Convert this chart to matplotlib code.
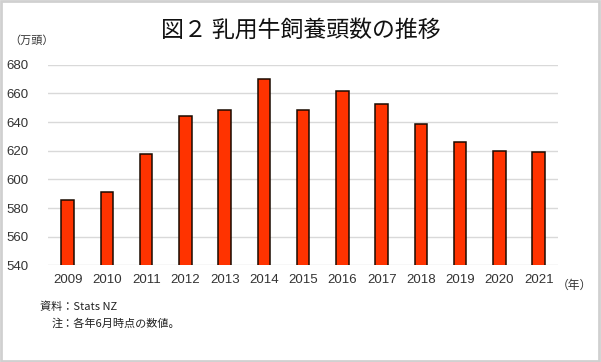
import matplotlib.pyplot as plt
from matplotlib.patches import Rectangle

plt.rcParams['font.family'] = ['Noto Sans CJK JP', 'DejaVu Sans']

# 乳用牛飼養頭数（万頭）
years = ['2009', '2010', '2011', '2012', '2013', '2014', '2015',
         '2016', '2017', '2018', '2019', '2020', '2021']
heads = [585.7, 591.3, 617.5, 644.3, 648.2, 670.0, 648.7,
         661.6, 652.7, 638.8, 626.0, 619.9, 618.8]

fig = plt.figure(figsize=(6.01, 3.62), dpi=100)
ax = fig.add_axes([0.080, 0.267, 0.849, 0.554])

x = range(len(years))
ax.bar(x, heads, width=0.32, color='#ff3300', edgecolor='#1a0a00',
       linewidth=1.1, zorder=3)

ax.set_ylim(540, 680)
ax.set_xlim(-0.5, len(years) - 0.5)
ax.set_yticks(range(540, 681, 20))
ax.set_xticks(list(x))
ax.set_xticklabels(years)
ax.grid(axis='y', color='#d9d9d9', linewidth=1, zorder=0)
for s in ax.spines.values():
    s.set_visible(False)
ax.tick_params(length=0, labelsize=9.5, labelcolor='#333333', pad=6)
ax.tick_params(axis='y', pad=14)
for lab in ax.get_xticklabels() + ax.get_yticklabels():
    lab.set_family(['Liberation Sans', 'DejaVu Sans'])

# texts
fig.text(0.50, 0.918, '図２ 乳用牛飼養頭数の推移', ha='center', va='center',
         fontsize=16.5, color='#111111')
fig.text(0.015, 0.887, '（万頭）', ha='left', va='center', fontsize=8,
         color='#333333')
fig.text(0.927, 0.213, '（年）', ha='left', va='center', fontsize=8.5,
         color='#333333')
fig.text(0.066, 0.152, '資料：Stats NZ', ha='left', va='center', fontsize=8,
         color='#222222')
fig.text(0.086, 0.107, '注：各年6月時点の数値。', ha='left', va='center',
         fontsize=8, color='#222222')

# outer border
fig.patches.append(Rectangle((0.002, 0.004), 0.994, 0.992, transform=fig.transFigure,
                             fill=False, edgecolor='#d0d0d0', linewidth=2))

fig.savefig('out.png', dpi=100)
